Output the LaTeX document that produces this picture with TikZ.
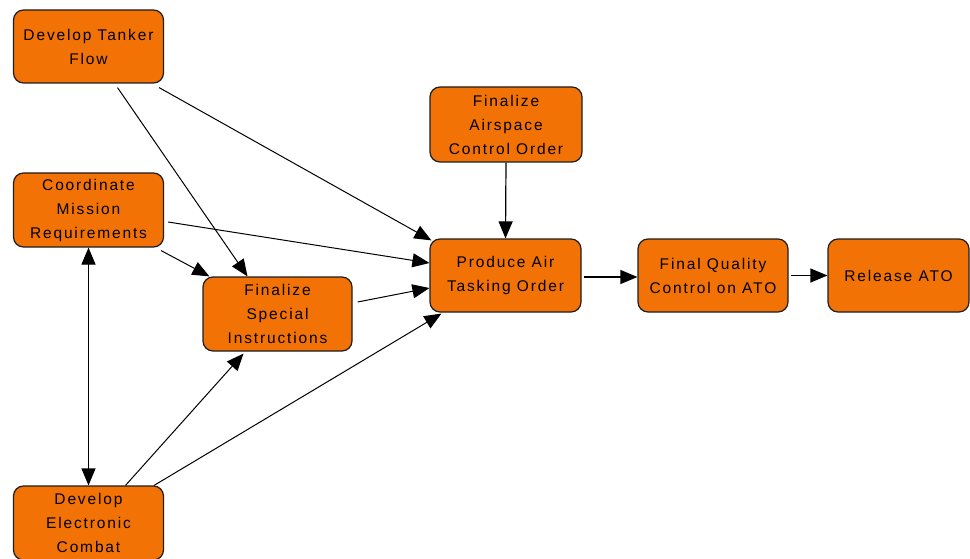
\documentclass[tikz,border=0pt]{standalone}
\usepackage{fontspec}
\newfontfamily\boxfont[LetterSpace=12]{Liberation Sans}
\usetikzlibrary{arrows.meta,calc}
\definecolor{orangefill}{RGB}{242,114,6}
\definecolor{edgegray}{RGB}{30,30,30}
\tikzset{
  box/.style={draw=edgegray, line width=1.2pt, fill=orangefill, rounded corners=10pt,
    minimum width=150pt, minimum height=74pt, inner sep=0pt, align=center,
    font={\boxfont\fontsize{15.5}{24}\selectfont}},
  conn/.style={draw=black, line width=1pt, -{Triangle[length=17pt,width=14pt]}},
  bothconn/.style={draw=black, line width=1.2pt, {Triangle[length=17pt,width=14pt]}-{Triangle[length=17pt,width=14pt]}}
}
\begin{document}
\begin{tikzpicture}[x=1pt,y=-1pt]
\useasboundingbox (0,0) rectangle (970,559);
\fill[white] (0,0) rectangle (970,559);
\clip (0,0) rectangle (970,559);

\node[box, minimum height=73pt] (tanker) at (88.5,46.5) {Develop Tanker\\Flow};
\node[box] (coord) at (88.5,210) {Coordinate\\Mission\\Requirements};
\node[box] (ewar) at (88.5,523) {Develop\\Electronic\\Combat};
\node[box, minimum width=149pt] (special) at (277.5,314) {Finalize\\Special\\Instructions};
\node[box, minimum width=152pt, minimum height=75pt] (airspace) at (506,124.5) {Finalize\\Airspace\\Control Order};
\node[box, minimum width=151pt, minimum height=73pt] (produce) at (505.5,275.5) {Produce Air\\Tasking Order};
\node[box, minimum height=73pt] (final) at (713,275.5) {Final Quality\\Control on ATO};
\node[box, minimum width=141pt, minimum height=73pt] (release) at (898.5,275.5) {Release ATO};

% connectors
\draw[conn] ($(tanker.south east)+(-5,4)$) -- ($(produce.north west)+(2,2)$);
\draw[conn] ($(tanker.south)+(29,4)$) -- ($(special.north)+(-30,0)$);
\draw[conn] ($(coord.east)+(4,12)$) -- ($(produce.west)+(0,-12.5)$);
\draw[conn] ($(coord.south east)+(-3,3)$) -- ($(special.north west)+(7,0)$);
\draw[conn] ($(special.east)+(5,-12)$) -- ($(produce.west)+(0,12.5)$);
\draw[conn] ($(ewar.north)+(37,0)$) -- ($(special.south)+(-34,2)$);
\draw[conn] ($(ewar.north east)+(-10,0)$) -- ($(produce.south west)+(12,1)$);
\draw[bothconn] (coord.south) -- (ewar.north);
\draw[conn, line width=1.2pt] (airspace.south) -- (produce.north);
\draw[conn, line width=1.2pt] ($(produce.east)+(2,1.5)$) -- ($(final.west)+(0,1.5)$);
\draw[conn, line width=1.2pt] ($(final.east)+(2,0)$) -- (release.west);
\end{tikzpicture}
\end{document}
